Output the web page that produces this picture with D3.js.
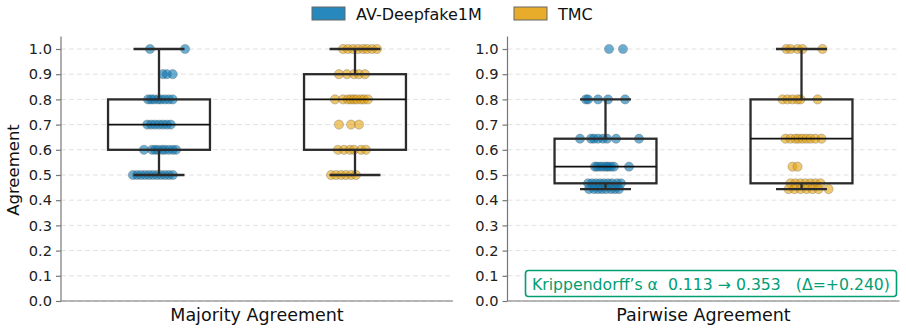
<!DOCTYPE html>
<html>
<head>
<meta charset="utf-8">
<script src="https://cdn.jsdelivr.net/npm/d3@7"></script>
<style>
  body { margin: 0; background: #fff; }
  svg text { font-family: "DejaVu Sans", sans-serif; }
</style>
</head>
<body>
<svg id="chart" width="906" height="331"></svg>
<script>
// categories / labels
var panels = ["Majority Agreement", "Pairwise Agreement"];
var datasets = ["AV-Deepfake1M", "TMC"];
var colors = ["#0173B2", "#E49E05"];
var yTicks = [0, 0.1, 0.2, 0.3, 0.4, 0.5, 0.6, 0.7, 0.8, 0.9, 1.0];

// box stats: [whisker low, q1, median, q3, whisker high]
var majorityBoxAV = [0.5, 0.6, 0.7, 0.8, 1.0];
var majorityBoxTMC = [0.5, 0.6, 0.8, 0.9, 1.0];
var pairwiseBoxAV = [0.444, 0.467, 0.533, 0.644, 0.8];
var pairwiseBoxTMC = [0.444, 0.467, 0.644, 0.8, 1.0];

// points: value level + jitter offsets (category units)
var majorityAV = [
  {v: 1.0, j: [-0.046, 0.133]},
  {v: 0.9, j: [0.02, 0.04, 0.07]},
  {v: 0.8, j: [-0.056, -0.041, -0.026, -0.005, 0.01, 0.03, 0.05, 0.07]},
  {v: 0.7, j: [-0.06, -0.04, -0.02, 0, 0.02, 0.04, 0.06]},
  {v: 0.6, j: [-0.077, -0.036, -0.02, -0.005, 0.015, 0.03, 0.05, 0.07, 0.087]},
  {v: 0.5, j: [-0.133, -0.112, -0.092, -0.071, -0.051, -0.031, -0.01, 0.01, 0.031, 0.051, 0.071]}
];
var majorityTMC = [
  {v: 1.0, j: [-0.061, -0.036, -0.01, 0.015, 0.041, 0.061, 0.087, 0.112]},
  {v: 0.9, j: [-0.082, -0.041, -0.005, 0.02, 0.051]},
  {v: 0.8, j: [-0.102, -0.061, -0.036, -0.02, -0.005, 0.01, 0.031, 0.046, 0.066]},
  {v: 0.7, j: [-0.082, -0.02, 0.02]},
  {v: 0.6, j: [-0.087, -0.056, -0.026, -0.005, 0.031, 0.056]},
  {v: 0.5, j: [-0.122, -0.097, -0.071, -0.046, -0.02, 0.005]}
];
var pairwiseAV = [
  {v: 1.0, j: [0.018, 0.089]},
  {v: 0.8, j: [-0.1, -0.089, -0.038, 0.013, 0.1]},
  {v: 0.644, j: [-0.13, -0.074, -0.059, -0.038, -0.013, 0.008, 0.054, 0.171]},
  {v: 0.533, j: [-0.054, -0.043, -0.028, -0.013, 0.003, 0.013, 0.028, 0.043, 0.12]},
  {v: 0.467, j: [-0.089, -0.069, -0.048, -0.028, -0.008, 0.013, 0.033, 0.059, 0.079]},
  {v: 0.444, j: [-0.084, -0.059, -0.038, -0.018, 0.003, 0.028, 0.048, 0.069]}
];
var pairwiseTMC = [
  {v: 1.0, j: [-0.077, -0.056, -0.02, 0.005, 0.107]},
  {v: 0.8, j: [-0.097, -0.071, -0.046, -0.02, -0.005, 0.082]},
  {v: 0.644, j: [-0.082, -0.056, -0.031, -0.015, 0.005, 0.026, 0.046, 0.071, 0.102]},
  {v: 0.533, j: [-0.046, -0.02]},
  {v: 0.467, j: [-0.056, -0.031, -0.005, 0.02, 0.046, 0.071, 0.097]},
  {v: 0.444, j: [-0.066, -0.036, -0.005, 0.026, 0.056, 0.087, 0.138]}
];

var annotation = "Krippendorff\u2019s \u03b1  0.113 \u2192 0.353   (\u0394=+0.240)";

var svg = d3.select("#chart");
var y = d3.scaleLinear().domain([0, 1.05]).range([301, 36.4]);

var panelData = [
  {title: panels[0], left: 61, right: 453, boxes: [majorityBoxAV, majorityBoxTMC], pts: [majorityAV, majorityTMC]},
  {title: panels[1], left: 507.5, right: 899.5, boxes: [pairwiseBoxAV, pairwiseBoxTMC], pts: [pairwiseAV, pairwiseTMC]}
];

var boxWidth = 0.52;

panelData.forEach(function(p, pi) {
  var x = d3.scaleLinear().domain([-0.5, 1.5]).range([p.left, p.right]);
  var g = svg.append("g");

  // dashed grid
  g.selectAll("line.grid").data(yTicks).enter().append("line")
    .attr("x1", p.left).attr("x2", p.right)
    .attr("y1", function(d) { return y(d); }).attr("y2", function(d) { return y(d); })
    .attr("stroke", "#e2e2e2").attr("stroke-width", 1).attr("stroke-dasharray", "5,3");

  // y axis
  var yAxis = d3.axisLeft(y).tickValues(yTicks).tickFormat(d3.format(".1f")).tickSize(5).tickPadding(4);
  var ax = g.append("g").attr("transform", "translate(" + p.left + ",0)").call(yAxis);
  ax.select(".domain").attr("stroke", "#777").attr("stroke-width", 1.2).attr("d", "M0," + y(1.05) + "V" + y(0));
  ax.selectAll(".tick line").attr("stroke", "#777").attr("stroke-width", 1.2);
  ax.selectAll(".tick text").attr("fill", "#222").style("font-size", "14.6px");

  // bottom spine
  g.append("line").attr("x1", p.left).attr("x2", p.right).attr("y1", y(0)).attr("y2", y(0))
    .attr("stroke", "#777").attr("stroke-width", 1.2);

  // points
  p.pts.forEach(function(rows, di) {
    var flat = [];
    rows.forEach(function(r) { r.j.forEach(function(j) { flat.push({v: r.v, j: j}); }); });
    g.selectAll("circle.d" + di).data(flat).enter().append("circle")
      .attr("cx", function(d) { return x(di + d.j); })
      .attr("cy", function(d) { return y(d.v); })
      .attr("r", 4.6)
      .attr("fill", colors[di]).attr("fill-opacity", 0.58)
      .attr("stroke", "#555").attr("stroke-opacity", 0.5).attr("stroke-width", 0.6);
  });

  // boxes
  p.boxes.forEach(function(b, di) {
    var x0 = x(di - boxWidth / 2), x1 = x(di + boxWidth / 2);
    var cx = x(di), capHalf = (x1 - x0) / 4;
    var bg = g.append("g").attr("stroke", "#2b2b2b").attr("fill", "none");
    bg.append("line").attr("x1", cx).attr("x2", cx).attr("y1", y(b[0])).attr("y2", y(b[1])).attr("stroke-width", 2.3);
    bg.append("line").attr("x1", cx).attr("x2", cx).attr("y1", y(b[3])).attr("y2", y(b[4])).attr("stroke-width", 2.3);
    bg.append("line").attr("x1", cx - capHalf).attr("x2", cx + capHalf).attr("y1", y(b[0])).attr("y2", y(b[0])).attr("stroke-width", 2.3);
    bg.append("line").attr("x1", cx - capHalf).attr("x2", cx + capHalf).attr("y1", y(b[4])).attr("y2", y(b[4])).attr("stroke-width", 2.3);
    bg.append("rect").attr("x", x0).attr("y", y(b[3])).attr("width", x1 - x0).attr("height", y(b[1]) - y(b[3])).attr("stroke-width", 2.3);
    bg.append("line").attr("x1", x0).attr("x2", x1).attr("y1", y(b[2])).attr("y2", y(b[2])).attr("stroke", "#111").attr("stroke-width", 1.7);
  });

  // x label
  g.append("text").attr("x", (p.left + p.right) / 2).attr("y", 321)
    .attr("text-anchor", "middle").style("font-size", "17.5px").attr("fill", "#111").text(p.title);
});

// y label
svg.append("text").attr("transform", "translate(19,170) rotate(-90)")
  .attr("text-anchor", "middle").style("font-size", "16.5px").attr("fill", "#111").text("Agreement");

// legend
var legendX = [312, 514];
datasets.forEach(function(name, i) {
  svg.append("rect").attr("x", legendX[i]).attr("y", 7).attr("width", 33).attr("height", 13)
    .attr("fill", colors[i]).attr("fill-opacity", 0.85).attr("stroke", "#666").attr("stroke-width", 1);
  svg.append("text").attr("x", legendX[i] + 44).attr("y", 19.5).style("font-size", "16px").attr("fill", "#111").text(name);
});

// annotation box
svg.append("rect").attr("x", 525.5).attr("y", 270.5).attr("width", 371).attr("height", 26).attr("rx", 3)
  .attr("fill", "#fff").attr("stroke", "#029E73").attr("stroke-width", 1.6);
svg.append("text").attr("x", 711).attr("y", 289.5).attr("text-anchor", "middle")
  .style("font-size", "15.7px").style("white-space", "pre").attr("fill", "#029E73").text(annotation);
</script>
</body>
</html>
